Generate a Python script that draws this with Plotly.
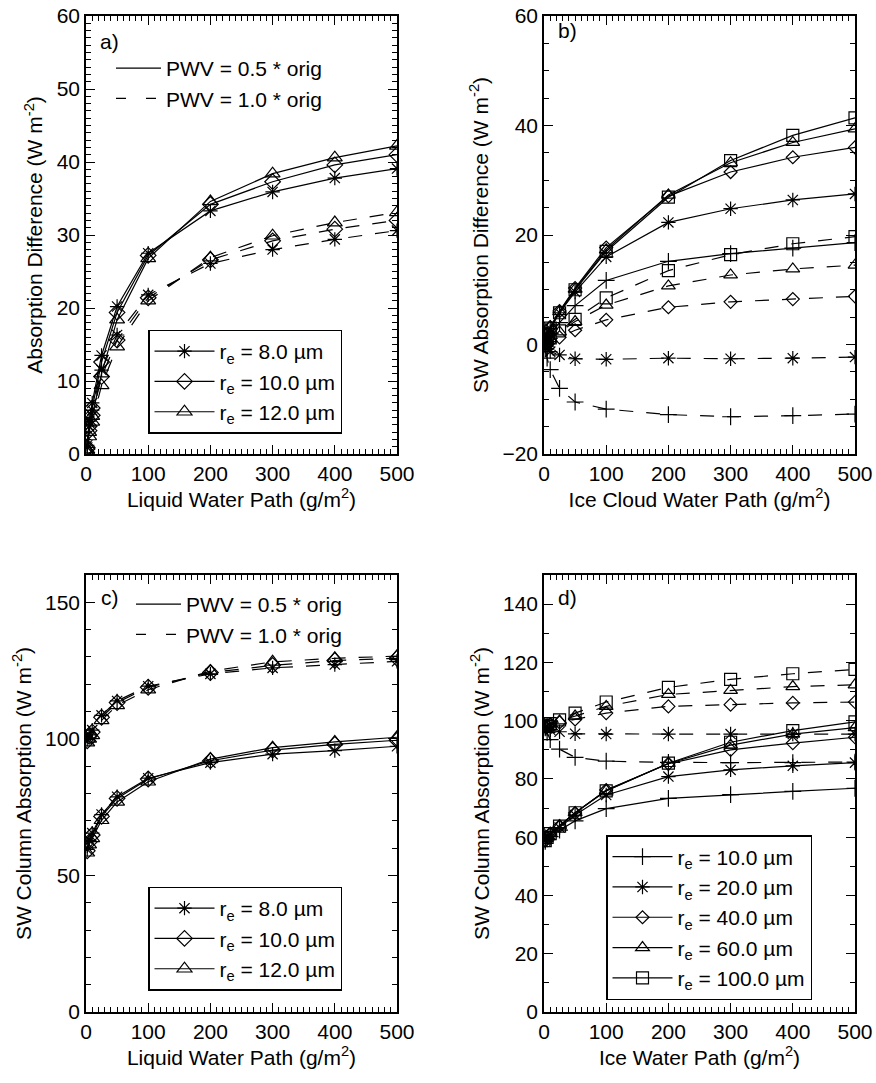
import plotly.graph_objects as go

# ---------------- data ----------------
x_path = [2, 5, 10, 25, 50, 100, 200, 300, 400, 500]

# panel a) absorption difference, liquid cloud  (re = 8, 10, 12 um)
a_half_r8 = [1.2, 4.5, 7.0, 13.5, 20.2, 27.5, 33.3, 35.9, 37.8, 39.1]
a_half_r10 = [0.9, 3.8, 6.3, 12.6, 19.4, 27.2, 34.2, 37.3, 39.6, 41.0]
a_half_r12 = [0.6, 3.0, 5.2, 11.0, 18.4, 26.8, 34.6, 38.4, 40.6, 42.2]
a_full_r8 = [0.9, 3.8, 6.0, 11.5, 16.3, 21.8, 26.1, 28.0, 29.4, 30.6]
a_full_r10 = [0.7, 3.2, 5.3, 10.6, 15.6, 21.4, 26.6, 29.2, 30.8, 32.0]
a_full_r12 = [0.4, 2.4, 4.4, 9.4, 14.7, 21.0, 26.9, 29.9, 31.7, 33.1]

# panel b) SW absorption difference, ice cloud (re = 10, 20, 40, 60, 100 um)
b_half_r10 = [0.3, 1.2, 2.0, 4.0, 7.1, 11.7, 15.2, 16.6, 17.6, 18.6]
b_half_r20 = [0.5, 1.8, 2.9, 5.8, 9.6, 16.0, 22.3, 24.8, 26.4, 27.5]
b_half_r40 = [0.6, 2.0, 3.2, 6.1, 10.3, 17.7, 27.1, 31.5, 34.2, 36.0]
b_half_r60 = [0.6, 2.0, 3.2, 6.0, 10.1, 17.3, 27.3, 33.2, 36.9, 39.4]
b_half_r100 = [0.5, 1.9, 3.0, 5.8, 10.0, 17.0, 26.9, 33.6, 38.2, 41.4]
b_full_r10 = [-0.8, -2.5, -4.6, -8.0, -10.5, -11.8, -12.8, -13.2, -13.0, -12.7]
b_full_r20 = [-0.3, -0.8, -1.3, -1.9, -2.6, -2.7, -2.5, -2.6, -2.5, -2.3]
b_full_r40 = [0.1, 0.3, 0.6, 1.3, 2.6, 4.5, 6.8, 7.8, 8.3, 8.8]
b_full_r60 = [0.2, 0.6, 1.1, 2.3, 4.2, 7.2, 10.7, 12.7, 13.8, 14.5]
b_full_r100 = [0.2, 0.7, 1.2, 2.5, 4.6, 8.5, 13.5, 16.4, 18.4, 19.7]

# panel c) SW column absorption, liquid cloud
c_half_r8 = [59.5, 62.8, 65.5, 72.3, 78.8, 85.6, 91.3, 94.4, 95.7, 97.3]
c_half_r10 = [59.0, 62.2, 64.8, 71.6, 78.2, 85.3, 92.0, 95.9, 98.0, 99.5]
c_half_r12 = [58.3, 61.3, 63.6, 70.2, 76.9, 84.3, 92.6, 96.8, 98.9, 100.6]
c_full_r8 = [99.8, 101.5, 103.2, 108.6, 113.9, 119.3, 123.8, 126.0, 127.2, 128.4]
c_full_r10 = [99.3, 100.9, 102.5, 107.9, 113.3, 118.9, 124.3, 126.9, 128.7, 129.5]
c_full_r12 = [98.6, 100.0, 101.3, 106.8, 112.3, 118.0, 124.8, 128.2, 129.5, 130.3]

# panel d) SW column absorption, ice cloud
d_half_r10 = [58.6, 59.4, 60.2, 62.4, 65.6, 69.8, 73.3, 74.6, 75.7, 76.8]
d_half_r20 = [58.8, 59.8, 60.8, 63.3, 67.6, 74.5, 80.8, 83.1, 84.5, 85.6]
d_half_r40 = [58.9, 60.0, 61.2, 63.8, 68.3, 76.2, 85.2, 90.0, 92.3, 94.3]
d_half_r60 = [58.9, 60.0, 61.3, 63.9, 68.4, 76.0, 85.3, 91.6, 95.4, 97.6]
d_half_r100 = [58.8, 59.9, 61.2, 63.8, 68.4, 75.9, 85.4, 92.6, 96.6, 99.6]
d_full_r10 = [97.5, 96.0, 93.5, 90.2, 87.4, 86.1, 85.7, 85.6, 85.6, 85.8]
d_full_r20 = [97.8, 97.3, 96.9, 96.2, 95.5, 95.4, 95.4, 95.4, 95.4, 95.4]
d_full_r40 = [98.0, 98.3, 98.7, 99.4, 100.4, 102.6, 104.9, 105.5, 106.1, 106.4]
d_full_r60 = [98.0, 98.4, 98.9, 99.9, 101.6, 104.9, 109.0, 110.4, 111.7, 112.3]
d_full_r100 = [98.0, 98.5, 99.0, 100.3, 102.6, 106.4, 111.4, 114.2, 116.1, 117.6]

liq_labels = ["r<sub>e</sub> = 8.0 \u00b5m", "r<sub>e</sub> = 10.0 \u00b5m", "r<sub>e</sub> = 12.0 \u00b5m"]
ice_labels = ["r<sub>e</sub> = 10.0 \u00b5m", "r<sub>e</sub> = 20.0 \u00b5m", "r<sub>e</sub> = 40.0 \u00b5m",
              "r<sub>e</sub> = 60.0 \u00b5m", "r<sub>e</sub> = 100.0 \u00b5m"]
pwv_labels = ["PWV = 0.5 * orig", "PWV = 1.0 * orig"]

# ---------------- style ----------------
FONT = "Liberation Sans, Arial, Helvetica, sans-serif"
FS = 21
W, H = 876, 1083
DASH = "14px,13px"
LW = 1.2

liq_syms = ["asterisk-open", "diamond-open", "triangle-up-open"]
ice_syms = ["cross-thin-open", "asterisk-open", "diamond-open", "triangle-up-open", "square-open"]
liq_sizes = [12, 12, 13]
ice_sizes = [12, 12, 10, 12, 12]

fig = go.Figure()


def add_series(xa, ya, y, sym, size, dash, name=None, legend=None, showlegend=False):
    fig.add_trace(go.Scatter(
        x=x_path, y=y, xaxis=xa, yaxis=ya, mode="lines+markers",
        line=dict(color="black", width=LW, dash=dash),
        marker=dict(symbol=sym, size=size, color="black", line=dict(color="black", width=1.2)),
        name=name, legend=legend, showlegend=showlegend,
    ))


def add_pwv_keys(xa, ya, legend):
    for lab, dash in zip(pwv_labels, ["solid", "10px,20px"]):
        fig.add_trace(go.Scatter(
            x=[None], y=[None], xaxis=xa, yaxis=ya, mode="lines",
            line=dict(color="black", width=LW, dash=dash),
            name=lab, legend=legend, showlegend=True,
        ))


# panel a
add_pwv_keys("x", "y", "legend")
for y, s, sz, lab in zip([a_half_r8, a_half_r10, a_half_r12], liq_syms, liq_sizes, liq_labels):
    add_series("x", "y", y, s, sz, "solid", lab, "legend2", True)
for y, s, sz in zip([a_full_r8, a_full_r10, a_full_r12], liq_syms, liq_sizes):
    add_series("x", "y", y, s, sz, DASH)

# panel b
for y, s, sz in zip([b_half_r10, b_half_r20, b_half_r40, b_half_r60, b_half_r100], ice_syms, ice_sizes):
    add_series("x2", "y2", y, s, sz, "solid")
for y, s, sz in zip([b_full_r10, b_full_r20, b_full_r40, b_full_r60, b_full_r100], ice_syms, ice_sizes):
    add_series("x2", "y2", y, s, sz, DASH)

# panel c
add_pwv_keys("x3", "y3", "legend3")
for y, s, sz, lab in zip([c_half_r8, c_half_r10, c_half_r12], liq_syms, liq_sizes, liq_labels):
    add_series("x3", "y3", y, s, sz, "solid", lab, "legend4", True)
for y, s, sz in zip([c_full_r8, c_full_r10, c_full_r12], liq_syms, liq_sizes):
    add_series("x3", "y3", y, s, sz, DASH)

# panel d
for y, s, sz, lab in zip([d_half_r10, d_half_r20, d_half_r40, d_half_r60, d_half_r100], ice_syms, ice_sizes, ice_labels):
    add_series("x4", "y4", y, s, sz, "solid", lab, "legend5", True)
for y, s, sz in zip([d_full_r10, d_full_r20, d_full_r40, d_full_r60, d_full_r100], ice_syms, ice_sizes):
    add_series("x4", "y4", y, s, sz, DASH)


def px_x(a, b):
    return [a / W, b / W]


def px_y(top, bottom):
    return [1 - bottom / H, 1 - top / H]


def axis(domain, anchor, rng, dtick, minor_dtick, title, standoff):
    return dict(
        domain=domain, anchor=anchor, range=rng, dtick=dtick, tick0=0,
        showline=True, linecolor="black", linewidth=1.5, mirror="ticks",
        ticks="inside", ticklen=9, tickwidth=1.3, tickcolor="black",
        showgrid=False, zeroline=False,
        tickfont=dict(size=FS, family=FONT, color="black"),
        minor=dict(dtick=minor_dtick, ticks="inside", ticklen=5, tickwidth=1.1, tickcolor="black", showgrid=False),
        title=dict(text=title, font=dict(size=FS, family=FONT, color="black"), standoff=standoff),
        automargin=False,
    )


XL = px_x(86, 397)
XR = px_x(544, 855)
YT = px_y(16, 454)
YB = px_y(575, 1012)

ytitle_a = "Absorption Difference (W m<sup>-2</sup>)"
ytitle_b = "SW Absorption Difference (W m<sup>-2</sup>)"
ytitle_cd = "SW Column Absorption (W m<sup>-2</sup>)"

legend_font = dict(size=FS, family=FONT, color="black")
pwv_leg = dict(xanchor="left", yanchor="top", bgcolor="rgba(0,0,0,0)", borderwidth=0,
               itemwidth=45, font=legend_font)
re_leg = dict(xanchor="left", bgcolor="white", bordercolor="black", borderwidth=1.5,
              itemwidth=60, font=legend_font)

fig.update_layout(
    width=W, height=H,
    margin=dict(l=0, r=0, t=0, b=0),
    paper_bgcolor="white", plot_bgcolor="white",
    font=dict(family=FONT, size=FS, color="black"),
    xaxis=axis(XL, "y", [0, 500], 100, 10, "Liquid Water Path (g/m<sup>2</sup>)", 4),
    yaxis=axis(YT, "x", [0, 60], 10, 1, ytitle_a, 8),
    xaxis2=axis(XR, "y2", [0, 500], 100, 10, "Ice Cloud Water Path (g/m<sup>2</sup>)", 4),
    yaxis2=axis(YT, "x2", [-20, 60], 20, 5, ytitle_b, 8),
    xaxis3=axis(XL, "y3", [0, 500], 100, 10, "Liquid Water Path (g/m<sup>2</sup>)", 4),
    yaxis3=axis(YB, "x3", [0, 160], 50, 10, ytitle_cd, 8),
    xaxis4=axis(XR, "y4", [0, 500], 100, 10, "Ice Water Path (g/m<sup>2</sup>)", 4),
    yaxis4=axis(YB, "x4", [0, 150], 20, 10, ytitle_cd, 8),
    legend=dict(x=111 / W, y=1 - 48 / H, **pwv_leg),
    legend3=dict(x=131 / W, y=1 - 584 / H, **pwv_leg),
    legend2=dict(x=148 / W, y=1 - 381.5 / H, yanchor="middle", **re_leg),
    legend4=dict(x=148 / W, y=1 - 938.5 / H, yanchor="middle", **re_leg),
    legend5=dict(x=606 / W, y=1 - 1000 / H, yanchor="bottom", **re_leg),
)

for txt, xp, yp in [("a)", 98, 42), ("b)", 556, 31), ("c)", 99, 597), ("d)", 556, 597)]:
    fig.add_annotation(text=txt, xref="paper", yref="paper", x=xp / W, y=1 - yp / H,
                       xanchor="left", yanchor="middle", showarrow=False,
                       font=dict(size=FS, family=FONT, color="black"))

fig.write_html("out.html")
